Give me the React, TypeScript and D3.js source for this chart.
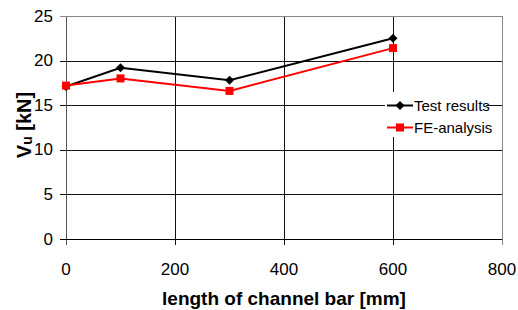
import * as d3 from "d3";

const lengths = [0, 100, 300, 600];
const testResults = [17.1, 19.2, 17.8, 22.5];
const feAnalysis = [17.2, 18.0, 16.6, 21.4];
const xTicks = [0, 200, 400, 600, 800];
const yTicks = [0, 5, 10, 15, 20, 25];

const WIDTH = 518;
const HEIGHT = 310;
const MARGIN = { top: 16, right: 16, bottom: 71, left: 66 };
const FONT = "'Liberation Sans', Arial, sans-serif";

export default function App() {
  const boundsWidth = WIDTH - MARGIN.left - MARGIN.right;
  const boundsHeight = HEIGHT - MARGIN.top - MARGIN.bottom;

  const xScale = d3.scaleLinear().domain([0, 800]).range([0, boundsWidth]);
  const yScale = d3.scaleLinear().domain([0, 25]).range([boundsHeight, 0]);

  const line = d3
    .line<number>()
    .x((_, i) => xScale(lengths[i]))
    .y((d) => yScale(d));

  const diamond = (cx: number, cy: number, r: number) =>
    `M${cx},${cy - r}L${cx + r},${cy}L${cx},${cy + r}L${cx - r},${cy}Z`;

  // legend box
  const lx = 385 - MARGIN.left;
  const ly = 92 - MARGIN.top;

  return (
    <svg
      width={WIDTH}
      height={HEIGHT}
      style={{ position: "absolute", left: 0, top: 0, fontFamily: FONT }}
    >
      <rect width={WIDTH} height={HEIGHT} fill="white" />
      <g transform={`translate(${MARGIN.left},${MARGIN.top})`}>
        {/* grid */}
        {yTicks.map((t) => (
          <line
            key={"gy" + t}
            x1={-6}
            x2={boundsWidth}
            y1={Math.round(yScale(t)) + 0.5}
            y2={Math.round(yScale(t)) + 0.5}
            stroke={t === 25 ? "#888" : "#111"}
            strokeWidth={1}
          />
        ))}
        {xTicks.map((t) => (
          <line
            key={"gx" + t}
            x1={Math.round(xScale(t)) + 0.5}
            x2={Math.round(xScale(t)) + 0.5}
            y1={0}
            y2={boundsHeight + 6}
            stroke={t === 800 ? "#888" : t === 0 ? "#555" : "#111"}
            strokeWidth={1}
          />
        ))}
        <line
          x1={-6}
          x2={boundsWidth}
          y1={Math.round(yScale(0)) + 0.5}
          y2={Math.round(yScale(0)) + 0.5}
          stroke="#000"
        />
        <line x1={boundsWidth + 0.5} x2={boundsWidth + 0.5} y1={0} y2={boundsHeight} stroke="#888" />
        <line x1={0} x2={boundsWidth} y1={0.5} y2={0.5} stroke="#888" />

        {/* tick labels */}
        {yTicks.map((t) => (
          <text
            key={"ty" + t}
            x={-13}
            y={yScale(t)}
            textAnchor="end"
            dominantBaseline="central"
            fontSize={17}
            fill="#000"
          >
            {t}
          </text>
        ))}
        {xTicks.map((t) => (
          <text
            key={"tx" + t}
            x={xScale(t)}
            y={boundsHeight + 36}
            textAnchor="middle"
            fontSize={17}
            fill="#000"
          >
            {t}
          </text>
        ))}

        {/* series */}
        <path d={line(testResults) ?? ""} fill="none" stroke="#000" strokeWidth={2} />
        <path d={line(feAnalysis) ?? ""} fill="none" stroke="#ff0000" strokeWidth={2} />
        {testResults.map((v, i) => (
          <path key={"d" + i} d={diamond(xScale(lengths[i]), yScale(v), 4.5)} fill="#000" />
        ))}
        {feAnalysis.map((v, i) => (
          <rect
            key={"s" + i}
            x={xScale(lengths[i]) - 4}
            y={yScale(v) - 4}
            width={8}
            height={8}
            fill="#ff0000"
          />
        ))}

        {/* legend */}
        <g transform={`translate(${lx},${ly})`}>
          <rect x={0} y={0} width={101} height={45} fill="white" />
          <line x1={2} x2={28} y1={13.5} y2={13.5} stroke="#000" strokeWidth={2} />
          <path d={diamond(15, 13.5, 4.5)} fill="#000" />
          <text x={29} y={13.5} dominantBaseline="central" fontSize={15} fill="#000">
            Test results
          </text>
          <line x1={2} x2={28} y1={35.5} y2={35.5} stroke="#ff0000" strokeWidth={2} />
          <rect x={11} y={31.5} width={8} height={8} fill="#ff0000" />
          <text x={29} y={35.5} dominantBaseline="central" fontSize={15} fill="#000">
            FE-analysis
          </text>
        </g>
      </g>

      {/* axis titles */}
      <text
        x={284}
        y={305}
        textAnchor="middle"
        fontSize={19}
        fontWeight="bold"
        fill="#000"
      >
        length of channel bar [mm]
      </text>
      <text
        transform={`translate(31,125) rotate(-90)`}
        textAnchor="middle"
        fontSize={20}
        fontWeight="bold"
        fill="#000"
      >
        V<tspan fontSize={14} dy={1}>u</tspan>
        <tspan dy={-1}> [kN]</tspan>
      </text>
    </svg>
  );
}
